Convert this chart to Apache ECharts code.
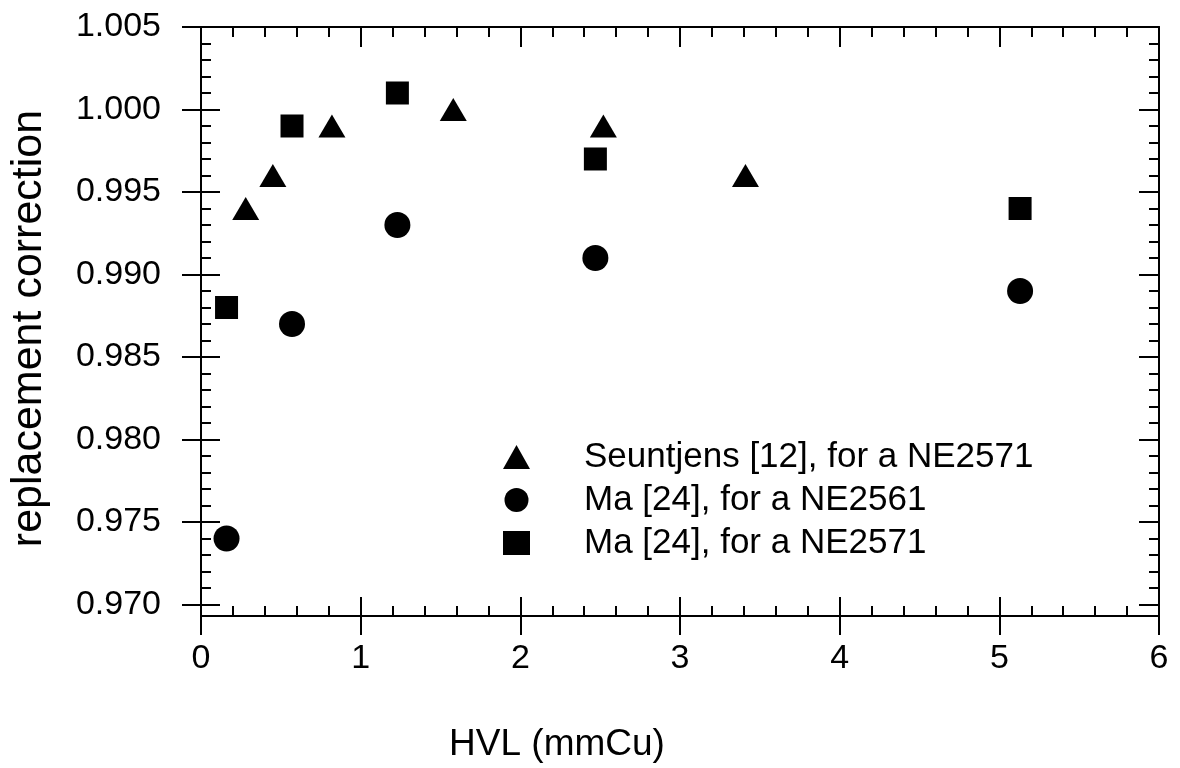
<!DOCTYPE html>
<html>
<head>
<meta charset="utf-8">
<script src="https://cdn.jsdelivr.net/npm/echarts@6/dist/echarts.min.js"></script>
<style>
  html, body { margin: 0; padding: 0; background: #fff; }
  #chart { width: 1180px; height: 768px; }
</style>
</head>
<body>
<div id="chart"></div>
<script>
// ---- data ----
const seuntjensX = [0.28, 0.45, 0.82, 1.58, 2.52, 3.41];
const seuntjensY = [0.994, 0.996, 0.999, 1.000, 0.999, 0.996];
const ma2561X = [0.16, 0.57, 1.23, 2.47, 5.13];
const ma2561Y = [0.974, 0.987, 0.993, 0.991, 0.989];
const ma2571X = [0.16, 0.57, 1.23, 2.47, 5.13];
const ma2571Y = [0.988, 0.999, 1.001, 0.997, 0.994];
const seriesNames = ['Seuntjens [12], for a NE2571', 'Ma [24], for a NE2561', 'Ma [24], for a NE2571'];
const yMajorTicks = [0.970, 0.975, 0.980, 0.985, 0.990, 0.995, 1.000, 1.005];
const xTitle = 'HVL (mmCu)';
const yTitle = 'replacement correction';

const yMinorTicks = [];
for (let i = 0; i < yMajorTicks.length - 1; i++) {
  for (let k = 1; k < 5; k++) {
    yMinorTicks.push(+(yMajorTicks[i] + k * 0.001).toFixed(4));
  }
}
const pair = (xs, ys) => xs.map((x, i) => [x, ys[i]]);

const FONT = 'Liberation Sans, Arial, Helvetica, sans-serif';
const BLK = '#000';
const yMin = 0.9693, yMax = 1.005;

const baseX = {
  type: 'value', min: 0, max: 6, interval: 1,
  splitLine: { show: false }
};
const baseY = {
  type: 'value', min: yMin, max: yMax,
  splitLine: { show: false }
};

const chart = echarts.init(document.getElementById('chart'), null, { renderer: 'canvas' });
chart.setOption({
  backgroundColor: '#fff',
  animation: false,
  grid: { left: 201, right: 21, top: 27, bottom: 145, containLabel: false },
  xAxis: [
    Object.assign({}, baseX, {
      position: 'bottom',
      axisLine: { show: true, lineStyle: { color: BLK, width: 2 } },
      axisTick: { show: true, inside: true, length: 19, lineStyle: { color: BLK, width: 2 } },
      minorTick: { show: true, splitNumber: 5, length: 10, lineStyle: { color: BLK, width: 2 } },
      axisLabel: { show: false }
    }),
    Object.assign({}, baseX, {
      position: 'bottom',
      axisLine: { show: false },
      axisTick: { show: true, inside: false, length: 19, lineStyle: { color: BLK, width: 2 } },
      axisLabel: { show: true, color: BLK, fontFamily: FONT, fontSize: 34, margin: 26 },
      name: xTitle, nameLocation: 'middle', nameGap: 110,
      nameTextStyle: { color: BLK, fontFamily: FONT, fontSize: 37, padding: [0, 246, 0, 0] }
    }),
    Object.assign({}, baseX, {
      position: 'top',
      axisLine: { show: true, lineStyle: { color: BLK, width: 2 } },
      axisTick: { show: true, inside: true, length: 20, lineStyle: { color: BLK, width: 2 } },
      minorTick: { show: true, splitNumber: 5, length: 10, lineStyle: { color: BLK, width: 2 } },
      axisLabel: { show: false }
    })
  ],
  yAxis: [
    Object.assign({}, baseY, {
      position: 'left',
      axisLine: { show: true, lineStyle: { color: BLK, width: 2 } },
      axisTick: { show: true, inside: false, length: 19, customValues: yMajorTicks, lineStyle: { color: BLK, width: 2 } },
      axisLabel: { show: true, customValues: yMajorTicks, color: BLK, fontFamily: FONT, fontSize: 34, margin: 40,
        formatter: v => (+v).toFixed(3) },
      name: yTitle, nameLocation: 'middle', nameGap: 150,
      nameTextStyle: { color: BLK, fontFamily: FONT, fontSize: 43, padding: [0, 14, 0, 0] }
    }),
    Object.assign({}, baseY, {
      position: 'left',
      axisLine: { show: false },
      axisTick: { show: true, inside: true, length: 19, customValues: yMajorTicks, lineStyle: { color: BLK, width: 2 } },
      axisLabel: { show: false }
    }),
    Object.assign({}, baseY, {
      position: 'left',
      axisLine: { show: false },
      axisTick: { show: true, inside: true, length: 10, customValues: yMinorTicks, lineStyle: { color: BLK, width: 2 } },
      axisLabel: { show: false }
    }),
    Object.assign({}, baseY, {
      position: 'right',
      axisLine: { show: true, lineStyle: { color: BLK, width: 2 } },
      axisTick: { show: true, inside: true, length: 20, customValues: yMajorTicks, lineStyle: { color: BLK, width: 2 } },
      axisLabel: { show: false }
    }),
    Object.assign({}, baseY, {
      position: 'right',
      axisLine: { show: false },
      axisTick: { show: true, inside: true, length: 10, customValues: yMinorTicks, lineStyle: { color: BLK, width: 2 } },
      axisLabel: { show: false }
    })
  ],
  legend: {
    orient: 'vertical',
    left: 498, top: 432,
    itemWidth: 27, itemHeight: 24,
    itemGap: 3,
    data: seriesNames,
    textStyle: { color: BLK, fontFamily: FONT, fontSize: 35, lineHeight: 40, padding: [0, 0, 0, 49] },
    selectedMode: false
  },
  series: [
    {
      name: seriesNames[0], type: 'scatter', xAxisIndex: 0, yAxisIndex: 0,
      symbol: 'triangle', symbolSize: [27, 23],
      itemStyle: { color: BLK, opacity: 1 },
      data: pair(seuntjensX, seuntjensY)
    },
    {
      name: seriesNames[1], type: 'scatter', xAxisIndex: 0, yAxisIndex: 0,
      symbol: 'circle', symbolSize: 26,
      itemStyle: { color: BLK, opacity: 1 },
      data: pair(ma2561X, ma2561Y)
    },
    {
      name: seriesNames[2], type: 'scatter', xAxisIndex: 0, yAxisIndex: 0,
      symbol: 'rect', symbolSize: 23,
      itemStyle: { color: BLK, opacity: 1 },
      data: pair(ma2571X, ma2571Y)
    }
  ]
});
</script>
</body>
</html>
